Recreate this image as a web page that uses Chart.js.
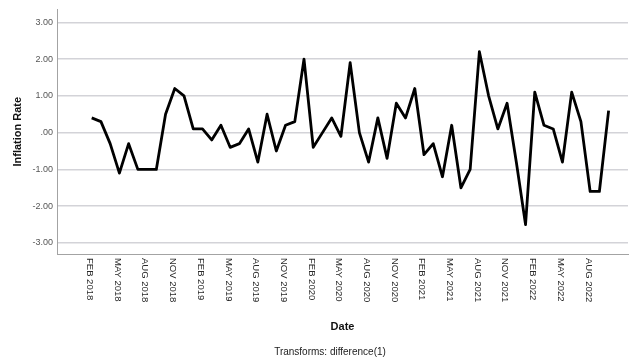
<!DOCTYPE html>
<html>
<head>
<meta charset="utf-8">
<script src="https://cdn.jsdelivr.net/npm/chart.js@4/dist/chart.umd.min.js"></script>
<style>
  html, body { margin: 0; padding: 0; background: #ffffff; }
  #wrap { width: 629px; height: 360px; }
</style>
</head>
<body>
<div id="wrap"><canvas id="chart" width="629" height="360"></canvas></div>
<script>
// Monthly periods (first differences start in February 2018)
const categories = [
  'FEB 2018','MAR 2018','APR 2018','MAY 2018','JUN 2018','JUL 2018','AUG 2018','SEP 2018','OCT 2018','NOV 2018','DEC 2018',
  'JAN 2019','FEB 2019','MAR 2019','APR 2019','MAY 2019','JUN 2019','JUL 2019','AUG 2019','SEP 2019','OCT 2019','NOV 2019','DEC 2019',
  'JAN 2020','FEB 2020','MAR 2020','APR 2020','MAY 2020','JUN 2020','JUL 2020','AUG 2020','SEP 2020','OCT 2020','NOV 2020','DEC 2020',
  'JAN 2021','FEB 2021','MAR 2021','APR 2021','MAY 2021','JUN 2021','JUL 2021','AUG 2021','SEP 2021','OCT 2021','NOV 2021','DEC 2021',
  'JAN 2022','FEB 2022','MAR 2022','APR 2022','MAY 2022','JUN 2022','JUL 2022','AUG 2022','SEP 2022','OCT 2022'
];

// Inflation rate, difference(1)
const inflationDiff = [
  0.4, 0.3, -0.3, -1.1, -0.3, -1.0, -1.0, -1.0, 0.5, 1.2, 1.0,
  0.1, 0.1, -0.2, 0.2, -0.4, -0.3, 0.1, -0.8, 0.5, -0.5, 0.2, 0.3,
  2.0, -0.4, 0.0, 0.4, -0.1, 1.9, 0.0, -0.8, 0.4, -0.7, 0.8, 0.4,
  1.2, -0.6, -0.3, -1.2, 0.2, -1.5, -1.0, 2.2, 1.0, 0.1, 0.8, -0.8,
  -2.5, 1.1, 0.2, 0.1, -0.8, 1.1, 0.3, -1.6, -1.6, 0.6
];

// Value axis ticks
const yTickValues = [-3, -2, -1, 0, 1, 2, 3];

// Date axis labels: every quarter month
const quarterMonths = ['FEB', 'MAY', 'AUG', 'NOV'];

const FONT = '"Liberation Sans", Arial, sans-serif';

const points = inflationDiff.map((v, i) => ({ x: i, y: v }));
const dateTickIdx = categories
  .map((c, i) => (quarterMonths.includes(c.slice(0, 3)) ? i : -1))
  .filter(i => i >= 0);

// Date labels read downward, plus the transform footnote
const dateLabels = {
  id: 'dateLabels',
  afterDraw(chart) {
    const { ctx, scales: { x }, chartArea } = chart;
    ctx.save();
    ctx.fillStyle = '#2a2a2a';
    ctx.font = '9.5px ' + FONT;
    ctx.textAlign = 'left';
    ctx.textBaseline = 'middle';
    dateTickIdx.forEach(i => {
      const px = x.getPixelForValue(i) - 2;
      ctx.save();
      ctx.translate(px, chartArea.bottom + 4);
      ctx.rotate(Math.PI / 2);
      ctx.fillText(categories[i], 0, 0);
      ctx.restore();
    });
    ctx.fillStyle = '#222222';
    ctx.font = '10px ' + FONT;
    ctx.textAlign = 'center';
    ctx.fillText('Transforms: difference(1)', 330, 352);
    ctx.restore();
  }
};

new Chart(document.getElementById('chart'), {
  type: 'line',
  data: {
    datasets: [{
      data: points,
      borderColor: '#000000',
      borderWidth: 2.8,
      borderJoinStyle: 'round',
      pointRadius: 0,
      tension: 0,
      fill: false
    }]
  },
  options: {
    responsive: false,
    animation: false,
    devicePixelRatio: 1,
    layout: { padding: { top: 8, right: 1, left: 0, bottom: 0 } },
    plugins: {
      legend: { display: false },
      tooltip: { enabled: false }
    },
    scales: {
      x: {
        type: 'linear',
        min: -3.76,
        max: 58.1,
        grid: { display: false },
        border: { display: true, color: '#a3a3a3', width: 1 },
        ticks: { display: false },
        title: {
          display: true,
          text: 'Date',
          color: '#111111',
          font: { family: FONT, size: 11, weight: 'bold' },
          padding: { top: 0, bottom: 26 }
        },
        afterFit(scale) { scale.height = 106; }
      },
      y: {
        min: -3.3,
        max: 3.35,
        afterBuildTicks(scale) {
          scale.ticks = yTickValues.map(v => ({ value: v }));
        },
        ticks: {
          color: '#555555',
          font: { family: FONT, size: 9 },
          padding: 4,
          callback: v => (v === 0 ? '.00' : v.toFixed(2))
        },
        grid: { color: '#d3d3d8', lineWidth: 1.5, drawTicks: false },
        border: { display: true, color: '#a3a3a3', width: 1 },
        title: {
          display: true,
          text: 'Inflation Rate',
          color: '#111111',
          font: { family: FONT, size: 11, weight: 'bold' },
          padding: { top: 11, bottom: 0 }
        },
        afterFit(scale) { scale.width = 57; }
      }
    }
  },
  plugins: [dateLabels]
});
</script>
</body>
</html>
